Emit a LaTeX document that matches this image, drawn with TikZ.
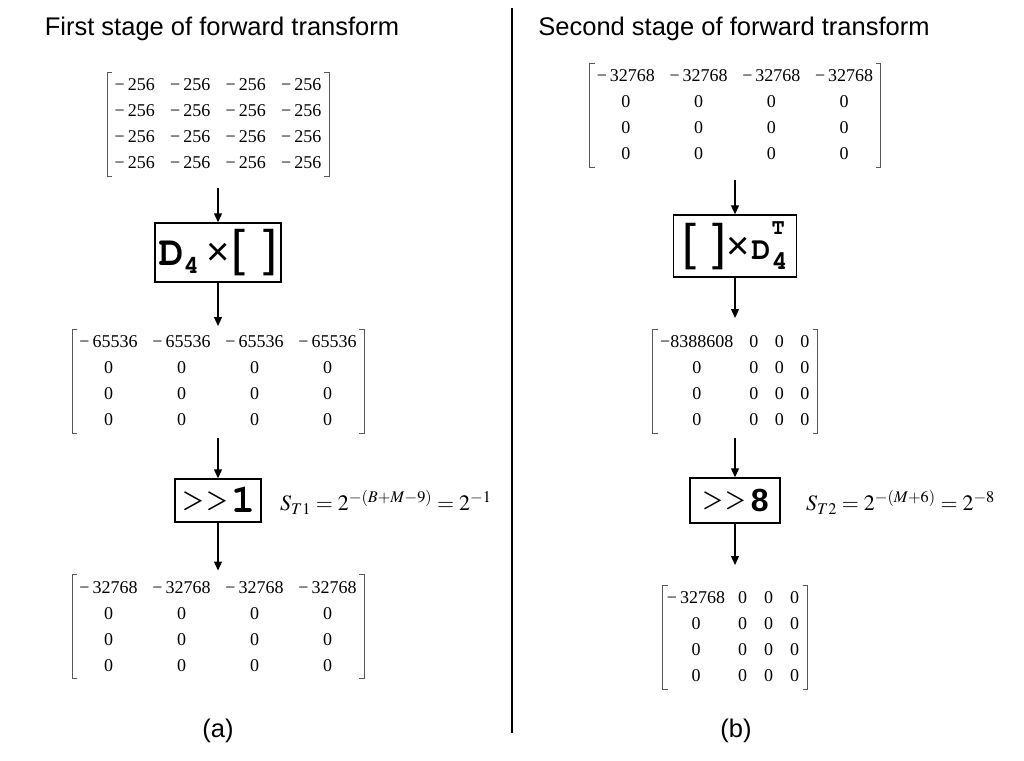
\documentclass[tikz,border=0pt]{standalone}
\usepackage{mathptmx}
\usepackage{fontspec}
\setmainfont{Liberation Serif}
\newfontfamily\sansf{Liberation Sans}
\usetikzlibrary{arrows.meta, positioning, matrix}

\newcommand{\courb}{\fontencoding{OT1}\fontfamily{pcr}\fontseries{b}\selectfont}
\newcommand{\courm}{\fontencoding{OT1}\fontfamily{pcr}\fontseries{m}\selectfont}
\newcommand{\mn}{−\hspace{3pt}}
\newcommand{\brackets}[1]{%
  \draw[brk] ([xshift=5pt]#1.north west) -- (#1.north west) -- (#1.south west) -- ([xshift=5pt]#1.south west);
  \draw[brk] ([xshift=-5pt]#1.north east) -- (#1.north east) -- (#1.south east) -- ([xshift=-5pt]#1.south east);}

\begin{document}
\begin{tikzpicture}[x=1pt, y=-1pt,
            title/.style={font=\sansf\fontsize{25.5}{30}\selectfont},
            mat/.style={matrix of nodes, inner sep=0pt, outer sep=0pt,
              nodes={font=\fontsize{18}{20}\selectfont, inner sep=0pt, minimum height=26pt}},
            brk/.style={draw=black!65, line width=1pt},
            box/.style={draw, line width=1.4pt, inner sep=0pt, align=center},
            arr/.style={-{Triangle[length=9pt,width=8pt]}, line width=1.2pt},
            formula/.style={font=\fontsize{22}{26}\selectfont}]

            \useasboundingbox (0,0) rectangle (1024,760);

            % first stage
            \node[title] (t1) at (222,29) {First stage of forward transform};

            \matrix (m1) [mat, nodes={minimum width=55.5pt}] at (218,124) {
              \mn256 & \mn256 & \mn256 & \mn256 \\
              \mn256 & \mn256 & \mn256 & \mn256 \\
              \mn256 & \mn256 & \mn256 & \mn256 \\
              \mn256 & \mn256 & \mn256 & \mn256 \\
            };

            \node[box, minimum width=126pt, minimum height=59pt] (b1) at (218,252.5)
              {{\fontsize{42}{42}\courb D}\raisebox{-8pt}{\fontsize{26}{26}\courb 4}\hspace{7pt}{\sansf\fontsize{40}{40}\selectfont ×}\hspace{2pt}{\sansf\fontsize{50}{50}\selectfont[\hspace{18pt}]}};

            \matrix (m2) [mat, nodes={minimum width=73pt}] at (218,381) {
              \mn65536 & \mn65536 & \mn65536 & \mn65536 \\
              0 & 0 & 0 & 0 \\
              0 & 0 & 0 & 0 \\
              0 & 0 & 0 & 0 \\
            };

            \node[box, minimum width=86pt, minimum height=43pt] (b2) at (218,500.5)
              {{\fontsize{40}{40}\courm >{}>}\hspace{2pt}{\fontsize{40}{40}\courb 1}};
            \node[formula, right=15pt of b2, yshift=-2pt] (f1) {$S_{T1} = 2^{-(B+M-9)} = 2^{-1}$};

            \matrix (m3) [mat, nodes={minimum width=73pt}] at (218,626.5) {
              \mn32768 & \mn32768 & \mn32768 & \mn32768 \\
              0 & 0 & 0 & 0 \\
              0 & 0 & 0 & 0 \\
              0 & 0 & 0 & 0 \\
            };

            \node[title] (la) at (218,731) {(a)};

            % second stage
            \node[title] (t2) at (734,29) {Second stage of forward transform};

            \matrix (m4) [mat, nodes={minimum width=72.75pt}] at (735,115) {
              \mn32768 & \mn32768 & \mn32768 & \mn32768 \\
              0 & 0 & 0 & 0 \\
              0 & 0 & 0 & 0 \\
              0 & 0 & 0 & 0 \\
            };

            \node[box, minimum width=123pt, minimum height=62pt] (b3) at (735,246)
              {{\sansf\fontsize{50}{50}\selectfont[\hspace{16pt}]}{\sansf\fontsize{40}{40}\selectfont ×}\hspace{2pt}{\fontsize{32}{32}\courb D}\hspace{1pt}\makebox[0pt][l]{\raisebox{25pt}{\fontsize{22}{22}\courb T}}\raisebox{-10pt}{\fontsize{27}{27}\courb 4}};

            \matrix (m5) [mat, nodes={minimum width=25.5pt}, column 1/.style={nodes={minimum width=88.5pt}}] at (735,381) {
              −8388608 & 0 & 0 & 0 \\
              0 & 0 & 0 & 0 \\
              0 & 0 & 0 & 0 \\
              0 & 0 & 0 & 0 \\
            };

            \node[box, minimum width=90pt, minimum height=45pt] (b4) at (735,500.5)
              {{\fontsize{38}{38}\courm >{}>}\hspace{4pt}{\sansf\bfseries\fontsize{32}{32}\selectfont 8}};
            \node[formula, right=22pt of b4, yshift=-2pt] (f2) {$S_{T2} = 2^{-(M+6)} = 2^{-8}$};

            \matrix (m6) [mat, nodes={minimum width=26pt}, column 1/.style={nodes={minimum width=67pt}}] at (735,637) {
              \mn32768 & 0 & 0 & 0 \\
              0 & 0 & 0 & 0 \\
              0 & 0 & 0 & 0 \\
              0 & 0 & 0 & 0 \\
            };

            \node[title] (lb) at (736,731) {(b)};

            \foreach \m in {m1,m2,m3,m4,m5,m6} {\brackets{\m}}

            \coordinate (dtop) at (512,8);
            \coordinate (dbot) at (512,733);
            \draw[line width=1.3pt] (dtop) -- (dbot);

            \draw[arr, shorten <=12pt] (m1) -- (b1);
            \draw[arr, shorten >=3pt] (b1) -- (m2);
            \draw[arr, shorten <=5pt] (m2) -- (b2);
            \draw[arr, shorten >=4pt] (b2) -- (m3);
            \draw[arr, shorten <=13pt] (m4) -- (b3);
            \draw[arr, shorten >=11pt] (b3) -- (m5);
            \draw[arr, shorten <=5pt] (m5) -- (b4);
            \draw[arr, shorten >=20pt] (b4) -- (m6);
        \end{tikzpicture}
\end{document}
